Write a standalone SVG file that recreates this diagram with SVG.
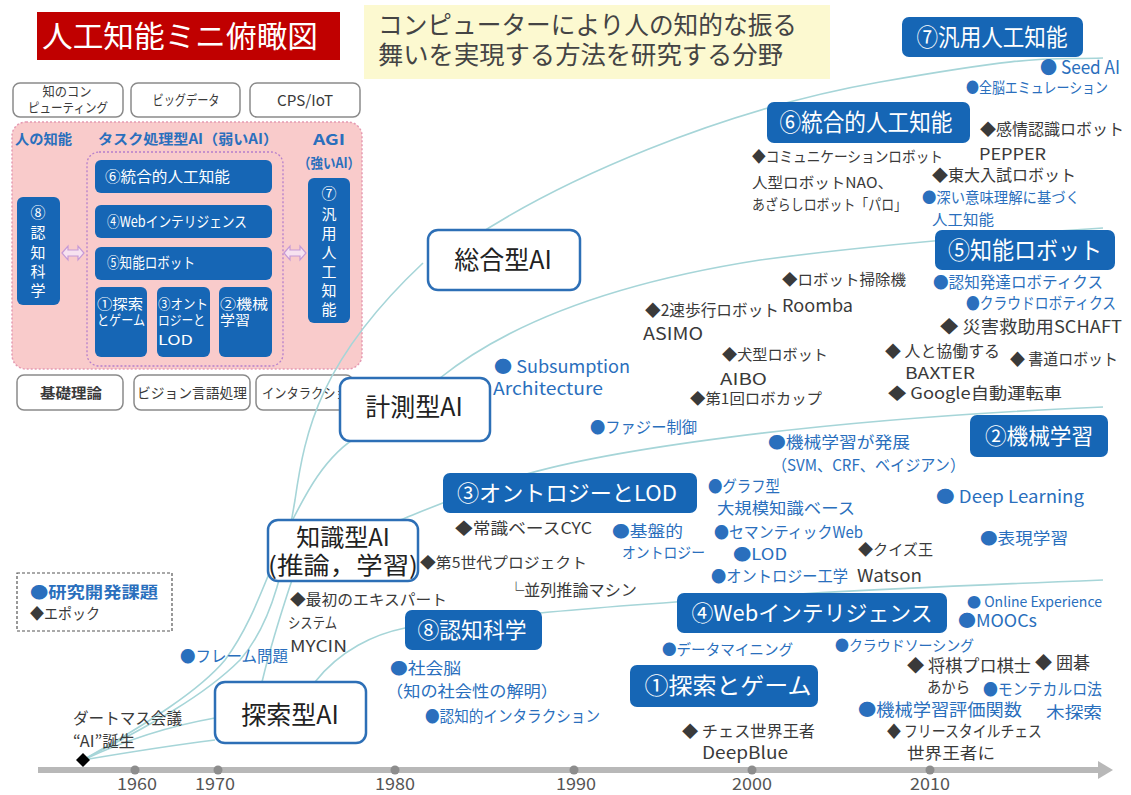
<svg xmlns="http://www.w3.org/2000/svg" width="1131" height="795" viewBox="0 0 1131 795">
<style>
text{font-family:"Noto Sans CJK JP","Noto Sans",sans-serif}
.b{fill:#2a6fbd}
.d{fill:#3a3a3a}
.w{fill:#fff}
.bb{fill:#1666b5}
.tb{fill:#fff;stroke:#2d6fb6;stroke-width:2.5}
.gb{fill:#fff;stroke:#8a8a8a;stroke-width:1.5}
.cv{fill:none;stroke:#a6d5d8;stroke-width:1.6}
.bold{font-weight:bold}
.yr{fill:#555;font-size:17px;text-anchor:middle}
.c{text-anchor:middle}
</style>
<defs>
<path id="dblarrow" d="M-11,0 L-5,-7 L-5,-3 L5,-3 L5,-7 L11,0 L5,7 L5,3 L-5,3 L-5,7 Z" fill="#f7e2f0" stroke="#c69ad6" stroke-width="1.2"/>
</defs>
<rect width="1131" height="795" fill="#fff"/>

<!-- title -->
<g id="title">
<rect x="37" y="12" width="303" height="48" fill="#c00000"/>
<text x="42" y="47" font-size="30" class="w" textLength="276" lengthAdjust="spacingAndGlyphs">人工知能ミニ俯瞰図</text>
</g>
<g id="subtitle">
<rect x="364" y="5" width="466" height="74" fill="#fcf9d0"/>
<text x="378" y="34" font-size="25" fill="#444" textLength="419" lengthAdjust="spacingAndGlyphs">コンピューターにより人の知的な振る</text>
<text x="378" y="64" font-size="25" fill="#444" textLength="405" lengthAdjust="spacingAndGlyphs">舞いを実現する方法を研究する分野</text>
</g>

<!-- left panel -->
<g id="panel-top">
<rect x="13" y="83" width="110" height="34" rx="7" class="gb"/>
<text x="67" y="96" font-size="13" class="d c" textLength="49" lengthAdjust="spacingAndGlyphs">知のコン</text>
<text x="68" y="112" font-size="13" class="d c" textLength="80" lengthAdjust="spacingAndGlyphs">ピューティング</text>
<rect x="131" y="83" width="109" height="34" rx="7" class="gb"/>
<text x="186" y="105" font-size="14" class="d c" textLength="67" lengthAdjust="spacingAndGlyphs">ビッグデータ</text>
<rect x="250" y="83" width="110" height="34" rx="7" class="gb"/>
<text x="305" y="106" font-size="15" class="d c" textLength="56" lengthAdjust="spacingAndGlyphs">CPS/IoT</text>
</g>
<g id="panel">
<rect x="12" y="122" width="350" height="247" rx="14" fill="#f9cbcb" stroke="#e59ab2" stroke-width="1.5" stroke-dasharray="2 2"/>
<rect x="87" y="152" width="196" height="214" rx="12" fill="none" stroke="#b57fcc" stroke-width="1.3" stroke-dasharray="2 2"/>
<text x="15" y="144" font-size="14" class="b bold" textLength="57" lengthAdjust="spacingAndGlyphs">人の知能</text>
<text x="98" y="144" font-size="14" class="b bold" textLength="180" lengthAdjust="spacingAndGlyphs">タスク処理型AI（弱いAI）</text>
<text x="329" y="145" font-size="15" class="b bold c" textLength="32" lengthAdjust="spacingAndGlyphs">AGI</text>
<text x="298" y="168" font-size="14" class="b bold" textLength="62" lengthAdjust="spacingAndGlyphs">（強いAI）</text>
<rect x="95" y="160" width="177" height="33" rx="6" class="bb"/>
<text x="105" y="182" font-size="15" class="w" textLength="125" lengthAdjust="spacingAndGlyphs">⑥統合的人工知能</text>
<rect x="95" y="205" width="177" height="33" rx="6" class="bb"/>
<text x="107" y="227" font-size="15" class="w" textLength="140" lengthAdjust="spacingAndGlyphs">④Webインテリジェンス</text>
<rect x="95" y="247" width="177" height="33" rx="6" class="bb"/>
<text x="107" y="268" font-size="15" class="w" textLength="88" lengthAdjust="spacingAndGlyphs">⑤知能ロボット</text>
<rect x="95" y="287" width="52" height="70" rx="6" class="bb"/>
<text x="97" y="309" font-size="13.5" class="w" textLength="46" lengthAdjust="spacingAndGlyphs">①探索</text>
<text x="97" y="325" font-size="13.5" class="w" textLength="48" lengthAdjust="spacingAndGlyphs">とゲーム</text>
<rect x="157" y="287" width="53" height="70" rx="6" class="bb"/>
<text x="158" y="309" font-size="13.5" class="w" textLength="50" lengthAdjust="spacingAndGlyphs">③オント</text>
<text x="158" y="325" font-size="13.5" class="w" textLength="47" lengthAdjust="spacingAndGlyphs">ロジーと</text>
<text x="158" y="345" font-size="13.5" class="w" textLength="35" lengthAdjust="spacingAndGlyphs">LOD</text>
<rect x="219" y="287" width="53" height="70" rx="6" class="bb"/>
<text x="220" y="309" font-size="13.5" class="w" textLength="48" lengthAdjust="spacingAndGlyphs">②機械</text>
<text x="220" y="325" font-size="13.5" class="w" textLength="30" lengthAdjust="spacingAndGlyphs">学習</text>
<rect x="17" y="197" width="43" height="108" rx="6" class="bb"/>
<g class="w c" font-size="15">
<text x="38" y="218">⑧</text><text x="38" y="238">認</text><text x="38" y="258">知</text><text x="38" y="277">科</text><text x="38" y="296">学</text>
</g>
<rect x="308" y="178" width="42" height="145" rx="6" class="bb"/>
<g class="w c" font-size="15">
<text x="329" y="199">⑦</text><text x="329" y="220">汎</text><text x="329" y="239">用</text><text x="329" y="258">人</text><text x="329" y="277">工</text><text x="329" y="296">知</text><text x="329" y="315">能</text>
</g>
<use href="#dblarrow" x="73" y="253"/>
<use href="#dblarrow" x="295" y="253"/>
</g>
<g id="panel-bottom">
<rect x="17" y="375" width="106" height="35" rx="7" class="gb"/>
<text x="71" y="398" font-size="14" class="d c bold" textLength="62" lengthAdjust="spacingAndGlyphs">基礎理論</text>
<rect x="134" y="375" width="116" height="35" rx="7" class="gb"/>
<text x="192" y="398" font-size="14" class="d c" textLength="110" lengthAdjust="spacingAndGlyphs">ビジョン言語処理</text>
<rect x="256" y="375" width="97" height="35" rx="7" class="gb"/>
<text x="262" y="398" font-size="14" class="d" textLength="98" lengthAdjust="spacingAndGlyphs">インタラクション</text>
</g>

<!-- timeline -->
<g id="timeline">
<line x1="38" y1="770" x2="1100" y2="770" stroke="#b8b8b8" stroke-width="6"/>
<polygon points="1098,761 1113,770 1098,779" fill="#b8b8b8"/>
<g fill="#8d8d8d">
<circle cx="135" cy="770" r="4.5"/><circle cx="218" cy="770" r="4.5"/><circle cx="395" cy="770" r="4.5"/><circle cx="574" cy="770" r="4.5"/><circle cx="752" cy="770" r="4.5"/><circle cx="930" cy="770" r="4.5"/>
</g>
<text x="137" y="790" class="yr" textLength="40" lengthAdjust="spacingAndGlyphs">1960</text>
<text x="215" y="790" class="yr" textLength="40" lengthAdjust="spacingAndGlyphs">1970</text>
<text x="395" y="790" class="yr" textLength="40" lengthAdjust="spacingAndGlyphs">1980</text>
<text x="576" y="790" class="yr" textLength="40" lengthAdjust="spacingAndGlyphs">1990</text>
<text x="752" y="790" class="yr" textLength="40" lengthAdjust="spacingAndGlyphs">2000</text>
<text x="930" y="790" class="yr" textLength="40" lengthAdjust="spacingAndGlyphs">2010</text>
</g>

<!-- connectors -->
<g id="connectors" class="cv">
<path d="M83,760 C140,730 200,700 240,660 C275,620 285,560 295,500 C305,430 320,360 423,263"/>
<path d="M470,240 C560,180 720,110 880,82 S1040,60 1103,58"/>
<path d="M83,760 C150,722 200,690 225,660 C255,620 268,570 290,525 C305,495 325,455 360,435"/>
<path d="M440,378 C500,330 600,285 760,260 C850,248 950,238 1103,228"/>
<path d="M83,760 C130,738 175,725 215,718"/>
<path d="M262,682 C272,640 282,610 292,580"/>
<path d="M400,520 C430,508 460,495 520,476 C600,452 800,420 1103,407"/>
<path d="M83,760 C130,752 175,745 215,740"/>
<path d="M315,682 C340,650 375,634 405,628 L540,613 C620,605 700,600 800,594 C900,588 1000,584 1103,580"/>
</g>

<!-- type boxes -->
<g id="sogo"><rect x="428" y="230" width="152" height="60" rx="10" class="tb"/><text x="503" y="269" font-size="25" fill="#222" class="c">総合型AI</text></g>
<g id="keisoku"><rect x="340" y="378" width="150" height="63" rx="10" class="tb"/><text x="414" y="416" font-size="25" fill="#222" class="c">計測型AI</text></g>
<g id="chishiki"><rect x="268" y="520" width="150" height="61" rx="10" class="tb"/><text x="343" y="546" font-size="24" fill="#222" class="c">知識型AI</text><text x="343" y="574" font-size="24" fill="#222" class="c" textLength="150" lengthAdjust="spacingAndGlyphs">(推論，学習)</text></g>
<g id="tansaku"><rect x="215" y="682" width="151" height="61" rx="10" class="tb"/><text x="290" y="724" font-size="25" fill="#222" class="c">探索型AI</text></g>

<!-- blue boxes -->
<g id="n7"><rect x="902" y="17" width="181" height="40" rx="7" class="bb"/><text x="992" y="46" font-size="24" class="w c" textLength="151" lengthAdjust="spacingAndGlyphs">⑦汎用人工知能</text></g>
<g id="n6"><rect x="767" y="102" width="203" height="41" rx="7" class="bb"/><text x="866" y="131" font-size="24" class="w c" textLength="173" lengthAdjust="spacingAndGlyphs">⑥統合的人工知能</text></g>
<g id="n5"><rect x="935" y="230" width="180" height="40" rx="7" class="bb"/><text x="1025" y="259" font-size="24" class="w c" textLength="154" lengthAdjust="spacingAndGlyphs">⑤知能ロボット</text></g>
<g id="n2"><rect x="970" y="415" width="138" height="42" rx="7" class="bb"/><text x="1039" y="444" font-size="22" class="w c" textLength="108" lengthAdjust="spacingAndGlyphs">②機械学習</text></g>
<g id="n3"><rect x="443" y="473" width="254" height="40" rx="7" class="bb"/><text x="567" y="501" font-size="22" class="w c" textLength="220" lengthAdjust="spacingAndGlyphs">③オントロジーとLOD</text></g>
<g id="n4"><rect x="677" y="593" width="270" height="40" rx="7" class="bb"/><text x="812" y="621" font-size="22" class="w c" textLength="241" lengthAdjust="spacingAndGlyphs">④Webインテリジェンス</text></g>
<g id="n8"><rect x="405" y="610" width="137" height="40" rx="7" class="bb"/><text x="472" y="638" font-size="22" class="w c" textLength="109" lengthAdjust="spacingAndGlyphs">⑧認知科学</text></g>
<g id="n1"><rect x="630" y="665" width="188" height="42" rx="7" class="bb"/><text x="728" y="694" font-size="23" class="w c" textLength="167" lengthAdjust="spacingAndGlyphs">①探索とゲーム</text></g>

<!-- legend -->
<g id="legend">
<rect x="17" y="573" width="155" height="58" fill="none" stroke="#555" stroke-width="1.2" stroke-dasharray="3 2"/>
<text x="30" y="598" font-size="16" class="b bold" textLength="128" lengthAdjust="spacingAndGlyphs">●研究開発課題</text>
<text x="30" y="619" font-size="15" class="d" textLength="70" lengthAdjust="spacingAndGlyphs">◆エポック</text>
</g>

<!-- origin -->
<g id="origin">
<polygon points="83,753 90,760 83,767 76,760" fill="#000"/>
<text x="73" y="724" font-size="16" class="d" textLength="109" lengthAdjust="spacingAndGlyphs">ダートマス会議</text>
<text x="73" y="747" font-size="16" class="d" textLength="62" lengthAdjust="spacingAndGlyphs">“AI”誕生</text>
</g>

<!-- annotations -->
<g id="labels">
<text x="1040" y="74" font-size="18" class="b" textLength="80" lengthAdjust="spacingAndGlyphs">● Seed AI</text>
<text x="966" y="93" font-size="15" class="b" textLength="142" lengthAdjust="spacingAndGlyphs">●全脳エミュレーション</text>
<text x="980" y="135" font-size="16" class="d" textLength="144" lengthAdjust="spacingAndGlyphs">◆感情認識ロボット</text>
<text x="979" y="160" font-size="16" class="d" textLength="67" lengthAdjust="spacingAndGlyphs">PEPPER</text>
<text x="752" y="162" font-size="15" class="d" textLength="191" lengthAdjust="spacingAndGlyphs">◆コミュニケーションロボット</text>
<text x="752" y="188" font-size="15" class="d" textLength="141" lengthAdjust="spacingAndGlyphs">人型ロボットNAO、</text>
<text x="752" y="210" font-size="15" class="d" textLength="155" lengthAdjust="spacingAndGlyphs">あざらしロボット「パロ」</text>
<text x="932" y="181" font-size="16" class="d" textLength="144" lengthAdjust="spacingAndGlyphs">◆東大入試ロボット</text>
<text x="922" y="203" font-size="15" class="b" textLength="158" lengthAdjust="spacingAndGlyphs">●深い意味理解に基づく</text>
<text x="932" y="225" font-size="15" class="b" textLength="62" lengthAdjust="spacingAndGlyphs">人工知能</text>

<text x="782" y="285" font-size="15" class="d" textLength="124" lengthAdjust="spacingAndGlyphs">◆ロボット掃除機</text>
<text x="645" y="316" font-size="16" class="d" textLength="134" lengthAdjust="spacingAndGlyphs">◆2速歩行ロボット</text>
<text x="782" y="312" font-size="17" class="d" textLength="71" lengthAdjust="spacingAndGlyphs">Roomba</text>
<text x="643" y="340" font-size="17" class="d" textLength="60" lengthAdjust="spacingAndGlyphs">ASIMO</text>
<text x="722" y="360" font-size="15" class="d" textLength="106" lengthAdjust="spacingAndGlyphs">◆犬型ロボット</text>
<text x="720" y="385" font-size="16" class="d" textLength="47" lengthAdjust="spacingAndGlyphs">AIBO</text>
<text x="690" y="404" font-size="15" class="d" textLength="132" lengthAdjust="spacingAndGlyphs">◆第1回ロボカップ</text>
<text x="494" y="373" font-size="17" class="b" textLength="136" lengthAdjust="spacingAndGlyphs">● Subsumption</text>
<text x="493" y="395" font-size="17" class="b" textLength="110" lengthAdjust="spacingAndGlyphs">Architecture</text>
<text x="933" y="288" font-size="16" class="b" textLength="170" lengthAdjust="spacingAndGlyphs">●認知発達ロボティクス</text>
<text x="966" y="309" font-size="16" class="b" textLength="150" lengthAdjust="spacingAndGlyphs">●クラウドロボティクス</text>
<text x="940" y="333" font-size="17" class="d" textLength="182" lengthAdjust="spacingAndGlyphs">◆ 災害救助用SCHAFT</text>
<text x="885" y="357" font-size="16" class="d" textLength="115" lengthAdjust="spacingAndGlyphs">◆ 人と協働する</text>
<text x="905" y="379" font-size="16" class="d" textLength="70" lengthAdjust="spacingAndGlyphs">BAXTER</text>
<text x="1010" y="365" font-size="16" class="d" textLength="108" lengthAdjust="spacingAndGlyphs">◆ 書道ロボット</text>
<text x="888" y="399" font-size="16" class="d" textLength="174" lengthAdjust="spacingAndGlyphs">◆ Google自動運転車</text>

<text x="590" y="433" font-size="16" class="b" textLength="107" lengthAdjust="spacingAndGlyphs">●ファジー制御</text>
<text x="768" y="448" font-size="16" class="b" textLength="142" lengthAdjust="spacingAndGlyphs">●機械学習が発展</text>
<text x="772" y="471" font-size="16" class="b" textLength="193" lengthAdjust="spacingAndGlyphs">（SVM、CRF、ベイジアン）</text>
<text x="708" y="492" font-size="16" class="b" textLength="72" lengthAdjust="spacingAndGlyphs">●グラフ型</text>
<text x="717" y="514" font-size="16" class="b" textLength="138" lengthAdjust="spacingAndGlyphs">大規模知識ベース</text>
<text x="936" y="503" font-size="17" class="b" textLength="148" lengthAdjust="spacingAndGlyphs">● Deep Learning</text>
<text x="980" y="544" font-size="16" class="b" textLength="88" lengthAdjust="spacingAndGlyphs">●表現学習</text>
<text x="455" y="534" font-size="16" class="d" textLength="137" lengthAdjust="spacingAndGlyphs">◆常識ベースCYC</text>
<text x="612" y="537" font-size="16" class="b" textLength="71" lengthAdjust="spacingAndGlyphs">●基盤的</text>
<text x="622" y="558" font-size="15" class="b" textLength="83" lengthAdjust="spacingAndGlyphs">オントロジー</text>
<text x="714" y="538" font-size="16" class="b" textLength="149" lengthAdjust="spacingAndGlyphs">●セマンティックWeb</text>
<text x="733" y="560" font-size="16" class="b" textLength="54" lengthAdjust="spacingAndGlyphs">●LOD</text>
<text x="858" y="555" font-size="15" class="d" textLength="75" lengthAdjust="spacingAndGlyphs">◆クイズ王</text>
<text x="711" y="582" font-size="16" class="b" textLength="137" lengthAdjust="spacingAndGlyphs">●オントロジー工学</text>
<text x="857" y="582" font-size="17" class="d" textLength="65" lengthAdjust="spacingAndGlyphs">Watson</text>
<text x="420" y="568" font-size="15" class="d" textLength="167" lengthAdjust="spacingAndGlyphs">◆第5世代プロジェクト</text>
<text x="508" y="596" font-size="16" class="d" textLength="129" lengthAdjust="spacingAndGlyphs">└並列推論マシン</text>
<text x="290" y="605" font-size="15" class="d" textLength="157" lengthAdjust="spacingAndGlyphs">◆最初のエキスパート</text>
<text x="288" y="628" font-size="15" class="d" textLength="49" lengthAdjust="spacingAndGlyphs">システム</text>
<text x="290" y="652" font-size="16" class="d" textLength="57" lengthAdjust="spacingAndGlyphs">MYCIN</text>
<text x="180" y="662" font-size="16" class="b" textLength="108" lengthAdjust="spacingAndGlyphs">●フレーム問題</text>

<text x="390" y="674" font-size="16" class="b" textLength="71" lengthAdjust="spacingAndGlyphs">●社会脳</text>
<text x="386" y="697" font-size="16" class="b" textLength="172" lengthAdjust="spacingAndGlyphs">（知の社会性の解明）</text>
<text x="425" y="722" font-size="16" class="b" textLength="175" lengthAdjust="spacingAndGlyphs">●認知的インタラクション</text>
<text x="662" y="655" font-size="15" class="b" textLength="131" lengthAdjust="spacingAndGlyphs">●データマイニング</text>
<text x="682" y="737" font-size="16" class="d" textLength="133" lengthAdjust="spacingAndGlyphs">◆ チェス世界王者</text>
<text x="702" y="759" font-size="17" class="d" textLength="86" lengthAdjust="spacingAndGlyphs">DeepBlue</text>
<text x="967" y="607" font-size="14" class="b" textLength="135" lengthAdjust="spacingAndGlyphs">● Online Experience</text>
<text x="958" y="627" font-size="17" class="b" textLength="79" lengthAdjust="spacingAndGlyphs">●MOOCs</text>
<text x="835" y="651" font-size="15" class="b" textLength="139" lengthAdjust="spacingAndGlyphs">●クラウドソーシング</text>
<text x="907" y="672" font-size="17" class="d" textLength="124" lengthAdjust="spacingAndGlyphs">◆ 将棋プロ棋士</text>
<text x="1035" y="669" font-size="17" class="d" textLength="55" lengthAdjust="spacingAndGlyphs">◆ 囲碁</text>
<text x="927" y="693" font-size="16" class="d" textLength="43" lengthAdjust="spacingAndGlyphs">あから</text>
<text x="983" y="695" font-size="16" class="b" textLength="119" lengthAdjust="spacingAndGlyphs">●モンテカルロ法</text>
<text x="1046" y="718" font-size="16" class="b" textLength="56" lengthAdjust="spacingAndGlyphs">木探索</text>
<text x="858" y="716" font-size="17" class="b" textLength="164" lengthAdjust="spacingAndGlyphs">●機械学習評価関数</text>
<text x="887" y="737" font-size="16" class="d" textLength="155" lengthAdjust="spacingAndGlyphs">◆ フリースタイルチェス</text>
<text x="907" y="759" font-size="16" class="d" textLength="88" lengthAdjust="spacingAndGlyphs">世界王者に</text>
</g>
</svg>
